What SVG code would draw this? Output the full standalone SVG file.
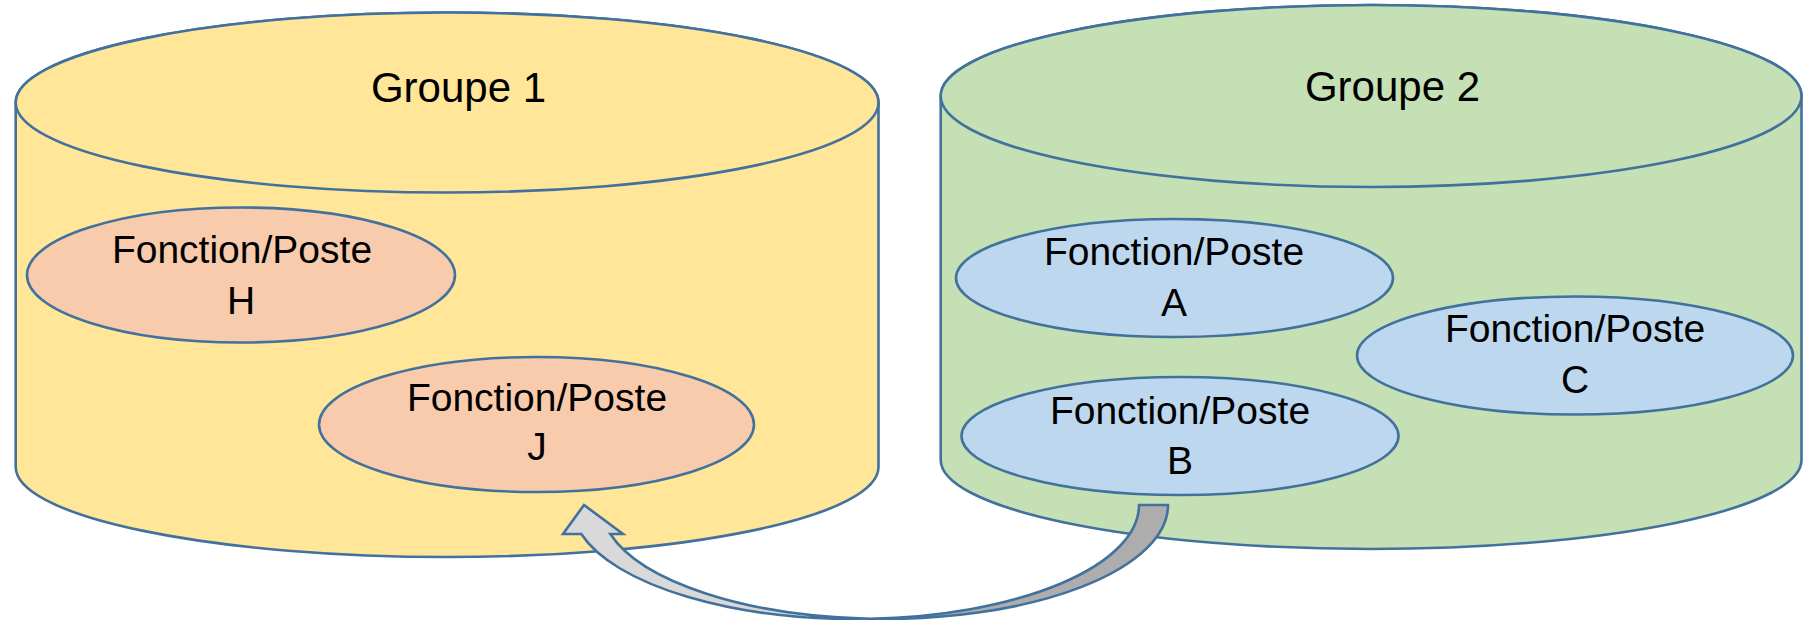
<svg xmlns="http://www.w3.org/2000/svg" width="1803" height="620" viewBox="0 0 1803 620">
<style>
.ln{stroke:#41719C;stroke-width:2.6;stroke-linejoin:miter}
.g1{fill:#FFE699}
.g2{fill:#C5E0B4}
.sal{fill:#F8CBAD}
.blu{fill:#BDD7EE}
.t{font-family:"Liberation Sans",Arial,sans-serif;fill:#000;text-anchor:middle}
.tf{font-size:39px}
.tg{font-size:42px}
</style>
<rect width="1803" height="620" fill="#fff"/>
<g id="groupe1">
<path class="ln g1" d="M15.7,102.5 L15.7,467 A431.4,90 0 0 0 878.5,467 L878.5,102.5 A431.4,90 0 0 0 15.7,102.5 Z"/>
<ellipse class="ln g1" cx="447.1" cy="102.5" rx="431.4" ry="90"/>
<text class="t tg" x="458.5" y="102">Groupe 1</text>
</g>
<g id="groupe2">
<path class="ln g2" d="M940.7,96 L940.7,460 A430.4,89 0 0 0 1801.5,460 L1801.5,96 A430.4,91 0 0 0 940.7,96 Z"/>
<ellipse class="ln g2" cx="1371.1" cy="96" rx="430.4" ry="91"/>
<text class="t tg" x="1392.5" y="101">Groupe 2</text>
</g>
<g id="posteH">
<ellipse class="ln sal" cx="241" cy="275" rx="214" ry="67.5"/>
<text class="t tf" x="242" y="263">Fonction/Poste</text>
<text class="t tf" x="241" y="314">H</text>
</g>
<g id="posteJ">
<ellipse class="ln sal" cx="536.5" cy="424.5" rx="217.5" ry="67.5"/>
<text class="t tf" x="537" y="411">Fonction/Poste</text>
<text class="t tf" x="537" y="460">J</text>
</g>
<g id="posteA">
<ellipse class="ln blu" cx="1174.5" cy="278" rx="218.5" ry="59"/>
<text class="t tf" x="1174" y="265">Fonction/Poste</text>
<text class="t tf" x="1174" y="316">A</text>
</g>
<g id="posteC">
<ellipse class="ln blu" cx="1575" cy="355.5" rx="218" ry="59"/>
<text class="t tf" x="1575" y="342">Fonction/Poste</text>
<text class="t tf" x="1575" y="393">C</text>
</g>
<g id="posteB">
<ellipse class="ln blu" cx="1180" cy="436" rx="218.5" ry="59"/>
<text class="t tf" x="1180" y="424">Fonction/Poste</text>
<text class="t tf" x="1180" y="474">B</text>
</g>
<g id="connectors">
<path class="ln" fill="#ADADAD" d="M1139,505 L1168,505 A283.5,114 0 0 1 870,618.8 A283.5,114 0 0 0 1139,505 Z"/>
<path class="ln" fill="#D9D9D9" d="M584,505 L623,534 L610.3,534 A283.5,114 0 0 0 870,618.8 A283.5,114 0 0 1 581.3,534 L563,534 Z"/>
</g>
</svg>
